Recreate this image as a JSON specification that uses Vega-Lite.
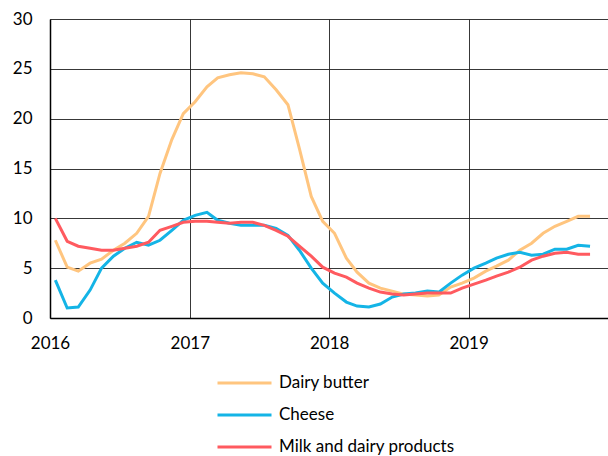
{
  "$schema": "https://vega.github.io/schema/vega-lite/v6.json",
  "width": 558,
  "height": 299,
  "autosize": {"type": "none"},
  "padding": {"left": 50, "top": 19, "right": 0, "bottom": 138},
  "background": "white",
  "config": {
    "font": "Lato",
    "view": {"stroke": null},
    "axis": {"labelFont": "Lato", "labelFontSize": 17, "labelColor": "#000"}
  },
  "data": {
    "values": [
      {"date": "2016-01-15", "Dairy butter": 7.8, "Cheese": 3.8, "Milk and dairy products": 10.0},
      {"date": "2016-02-15", "Dairy butter": 5.1, "Cheese": 1.0, "Milk and dairy products": 7.7},
      {"date": "2016-03-15", "Dairy butter": 4.7, "Cheese": 1.1, "Milk and dairy products": 7.2},
      {"date": "2016-04-15", "Dairy butter": 5.5, "Cheese": 2.8, "Milk and dairy products": 7.0},
      {"date": "2016-05-15", "Dairy butter": 5.9, "Cheese": 5.0, "Milk and dairy products": 6.8},
      {"date": "2016-06-15", "Dairy butter": 6.8, "Cheese": 6.2, "Milk and dairy products": 6.8},
      {"date": "2016-07-15", "Dairy butter": 7.5, "Cheese": 7.0, "Milk and dairy products": 7.0},
      {"date": "2016-08-15", "Dairy butter": 8.5, "Cheese": 7.6, "Milk and dairy products": 7.2},
      {"date": "2016-09-15", "Dairy butter": 10.2, "Cheese": 7.3, "Milk and dairy products": 7.6},
      {"date": "2016-10-15", "Dairy butter": 14.5, "Cheese": 7.8, "Milk and dairy products": 8.8},
      {"date": "2016-11-15", "Dairy butter": 17.9, "Cheese": 8.8, "Milk and dairy products": 9.2},
      {"date": "2016-12-15", "Dairy butter": 20.5, "Cheese": 9.8, "Milk and dairy products": 9.6},
      {"date": "2017-01-15", "Dairy butter": 21.7, "Cheese": 10.3, "Milk and dairy products": 9.7},
      {"date": "2017-02-15", "Dairy butter": 23.2, "Cheese": 10.6, "Milk and dairy products": 9.7},
      {"date": "2017-03-15", "Dairy butter": 24.1, "Cheese": 9.8, "Milk and dairy products": 9.6},
      {"date": "2017-04-15", "Dairy butter": 24.4, "Cheese": 9.5, "Milk and dairy products": 9.5},
      {"date": "2017-05-15", "Dairy butter": 24.6, "Cheese": 9.3, "Milk and dairy products": 9.6},
      {"date": "2017-06-15", "Dairy butter": 24.5, "Cheese": 9.3, "Milk and dairy products": 9.6},
      {"date": "2017-07-15", "Dairy butter": 24.2, "Cheese": 9.3, "Milk and dairy products": 9.3},
      {"date": "2017-08-15", "Dairy butter": 22.9, "Cheese": 9.0, "Milk and dairy products": 8.8},
      {"date": "2017-09-15", "Dairy butter": 21.4, "Cheese": 8.3, "Milk and dairy products": 8.2},
      {"date": "2017-10-15", "Dairy butter": 17.0, "Cheese": 6.8, "Milk and dairy products": 7.2},
      {"date": "2017-11-15", "Dairy butter": 12.2, "Cheese": 5.0, "Milk and dairy products": 6.2},
      {"date": "2017-12-15", "Dairy butter": 9.7, "Cheese": 3.5, "Milk and dairy products": 5.1},
      {"date": "2018-01-15", "Dairy butter": 8.5, "Cheese": 2.5, "Milk and dairy products": 4.5},
      {"date": "2018-02-15", "Dairy butter": 6.0, "Cheese": 1.6, "Milk and dairy products": 4.1},
      {"date": "2018-03-15", "Dairy butter": 4.6, "Cheese": 1.2, "Milk and dairy products": 3.5},
      {"date": "2018-04-15", "Dairy butter": 3.5, "Cheese": 1.1, "Milk and dairy products": 3.0},
      {"date": "2018-05-15", "Dairy butter": 3.0, "Cheese": 1.4, "Milk and dairy products": 2.6},
      {"date": "2018-06-15", "Dairy butter": 2.7, "Cheese": 2.1, "Milk and dairy products": 2.4},
      {"date": "2018-07-15", "Dairy butter": 2.4, "Cheese": 2.4, "Milk and dairy products": 2.3},
      {"date": "2018-08-15", "Dairy butter": 2.3, "Cheese": 2.5, "Milk and dairy products": 2.4},
      {"date": "2018-09-15", "Dairy butter": 2.2, "Cheese": 2.7, "Milk and dairy products": 2.5},
      {"date": "2018-10-15", "Dairy butter": 2.3, "Cheese": 2.6, "Milk and dairy products": 2.5},
      {"date": "2018-11-15", "Dairy butter": 3.1, "Cheese": 3.5, "Milk and dairy products": 2.5},
      {"date": "2018-12-15", "Dairy butter": 3.5, "Cheese": 4.3, "Milk and dairy products": 3.0},
      {"date": "2019-01-15", "Dairy butter": 4.0, "Cheese": 5.0, "Milk and dairy products": 3.4},
      {"date": "2019-02-15", "Dairy butter": 4.7, "Cheese": 5.5, "Milk and dairy products": 3.8},
      {"date": "2019-03-15", "Dairy butter": 5.2, "Cheese": 6.0, "Milk and dairy products": 4.2},
      {"date": "2019-04-15", "Dairy butter": 5.8, "Cheese": 6.4, "Milk and dairy products": 4.6},
      {"date": "2019-05-15", "Dairy butter": 6.8, "Cheese": 6.6, "Milk and dairy products": 5.1},
      {"date": "2019-06-15", "Dairy butter": 7.5, "Cheese": 6.3, "Milk and dairy products": 5.8},
      {"date": "2019-07-15", "Dairy butter": 8.5, "Cheese": 6.4, "Milk and dairy products": 6.2},
      {"date": "2019-08-15", "Dairy butter": 9.2, "Cheese": 6.9, "Milk and dairy products": 6.5},
      {"date": "2019-09-15", "Dairy butter": 9.7, "Cheese": 6.9, "Milk and dairy products": 6.6},
      {"date": "2019-10-15", "Dairy butter": 10.2, "Cheese": 7.3, "Milk and dairy products": 6.4},
      {"date": "2019-11-15", "Dairy butter": 10.2, "Cheese": 7.2, "Milk and dairy products": 6.4}
    ]
  },
  "transform": [
    {"fold": ["Dairy butter", "Cheese", "Milk and dairy products"], "as": ["series", "value"]}
  ],
  "mark": {"type": "line", "strokeWidth": 3, "clip": true},
  "encoding": {
    "x": {
      "field": "date",
      "type": "temporal",
      "scale": {"type": "utc", "domain": [{"year": 2016, "month": 1, "date": 1, "utc": true}, {"year": 2020, "month": 1, "date": 1, "utc": true}]},
      "axis": {
        "title": null,
        "values": [
          {"year": 2016, "month": 1, "date": 1, "utc": true},
          {"year": 2017, "month": 1, "date": 1, "utc": true},
          {"year": 2018, "month": 1, "date": 1, "utc": true},
          {"year": 2019, "month": 1, "date": 1, "utc": true}
        ],
        "labelExpr": "utcFormat(datum.value, '%Y')",
        "labelFlush": false,
        "labelAlign": "center",
        "ticks": false,
        "labelPadding": 17,
        "domainColor": "#000",
        "domainWidth": 1.5,
        "grid": true,
        "gridColor": "#222",
        "gridWidth": 1,
        "gridOpacity": 0.9
      }
    },
    "y": {
      "field": "value",
      "type": "quantitative",
      "scale": {"domain": [0, 30], "nice": false},
      "axis": {
        "title": null,
        "values": [0, 5, 10, 15, 20, 25, 30],
        "ticks": false,
        "labelPadding": 18,
        "domainColor": "#000",
        "domainWidth": 1.5,
        "grid": true,
        "gridColor": "#222",
        "gridWidth": 1,
        "gridOpacity": 0.9
      }
    },
    "color": {
      "field": "series",
      "type": "nominal",
      "scale": {
        "domain": ["Dairy butter", "Cheese", "Milk and dairy products"],
        "range": ["#FFC57F", "#14B4E6", "#FF5A5F"]
      },
      "legend": {
        "title": null,
        "orient": "none",
        "legendX": 166,
        "legendY": 355,
        "direction": "vertical",
        "symbolType": "stroke",
        "symbolSize": 2916,
        "symbolStrokeWidth": 3,
        "clipHeight": 18,
        "labelFontSize": 17,
        "labelFont": "Lato",
        "labelColor": "#000",
        "labelOffset": 6,
        "rowPadding": 14,
        "labelLimit": 400
      }
    }
  }
}
